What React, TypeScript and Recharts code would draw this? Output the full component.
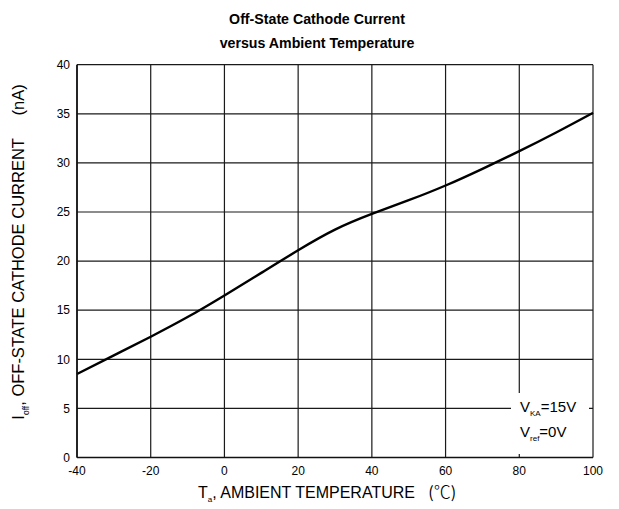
import React from 'react';
import { LineChart, Line, XAxis, YAxis, CartesianGrid } from 'recharts';

const temperatures = [-40, -30, -20, -10, 0, 10, 20, 30, 40, 50, 60, 70, 80, 90, 100];
const currents = [8.5, 10.4, 12.3, 14.3, 16.5, 18.8, 21.1, 23.2, 24.8, 26.2, 27.7, 29.4, 31.2, 33.1, 35.1];
const xTicks = [-40, -20, 0, 20, 40, 60, 80, 100];
const yTicks = [0, 5, 10, 15, 20, 25, 30, 35, 40];

const data = temperatures.map((t, i) => ({ t, i: currents[i] }));

const FONT = "Arial, 'Liberation Sans', sans-serif";
const CJK = "'Noto Sans CJK SC', 'Noto Sans CJK JP', sans-serif";

export default function App() {
  return (
    <div style={{ position: 'absolute', left: 0, top: 0, width: 619, height: 509, background: '#fff', fontFamily: FONT }}>
      <LineChart
        width={619}
        height={509}
        data={data}
        margin={{ top: 64.7, right: 26, bottom: 21.5, left: 37 }}
      >
        <CartesianGrid stroke="#1a1a1a" strokeWidth={1.2} />
        <XAxis
          dataKey="t"
          type="number"
          domain={[-40, 100]}
          ticks={xTicks}
          height={30}
          tickLine={false}
          tickSize={6}
          tickMargin={3}
          axisLine={{ stroke: '#111', strokeWidth: 1.6 }}
          tick={{ fill: '#000', fontSize: 12, fontFamily: FONT }}
          interval={0}
        />
        <YAxis
          type="number"
          domain={[0, 40]}
          ticks={yTicks}
          width={40}
          tickLine={false}
          tickSize={5}
          tickMargin={2}
          axisLine={{ stroke: '#111', strokeWidth: 1.6 }}
          tick={{ fill: '#000', fontSize: 12, fontFamily: FONT }}
          interval={0}
        />
        <Line
          type="natural"
          dataKey="i"
          stroke="#000"
          strokeWidth={2.4}
          dot={false}
          isAnimationActive={false}
        />
      </LineChart>

      <div style={{ position: 'absolute', left: 0, width: 634, top: 7, textAlign: 'center', fontWeight: 'bold', fontSize: 14.2, lineHeight: '24px', color: '#000' }}>
        Off-State Cathode Current<br />versus Ambient Temperature
      </div>

      <div style={{ position: 'absolute', left: 511, top: 393, width: 78, height: 61, background: '#fff', fontSize: 15, color: '#000' }}>
        <div style={{ position: 'absolute', left: 9, top: 5, whiteSpace: 'nowrap' }}>
          V<sub style={{ fontSize: 8, verticalAlign: '-4px' }}>KA</sub>=15V
        </div>
        <div style={{ position: 'absolute', left: 9, top: 30, whiteSpace: 'nowrap' }}>
          V<sub style={{ fontSize: 8, verticalAlign: '-4px' }}>ref</sub>=0V
        </div>
      </div>

      <div style={{ position: 'absolute', left: 198, top: 481, fontSize: 16, lineHeight: '20px', whiteSpace: 'pre', color: '#000' }}>
        T<sub style={{ fontSize: 8, lineHeight: '8px', verticalAlign: '-4px' }}>a</sub>, AMBIENT TEMPERATURE   <span style={{ fontFamily: CJK, fontSize: 16 }}>(</span><span style={{ fontFamily: CJK, fontSize: 17, fontWeight: 300 }}>℃</span><span style={{ fontFamily: CJK, fontSize: 16 }}>)</span>
      </div>

      <div style={{ position: 'absolute', left: 20, top: 252, width: 0, height: 0 }}>
        <div style={{ position: 'absolute', left: 0, top: 0, transform: 'translate(-50%, -50%) rotate(-90deg)', fontSize: 16.5, whiteSpace: 'pre', color: '#000' }}>
          I<sub style={{ fontSize: 8.5, verticalAlign: '-5px' }}>off</sub>, OFF-STATE CATHODE CURRENT     (nA)
        </div>
      </div>
    </div>
  );
}
